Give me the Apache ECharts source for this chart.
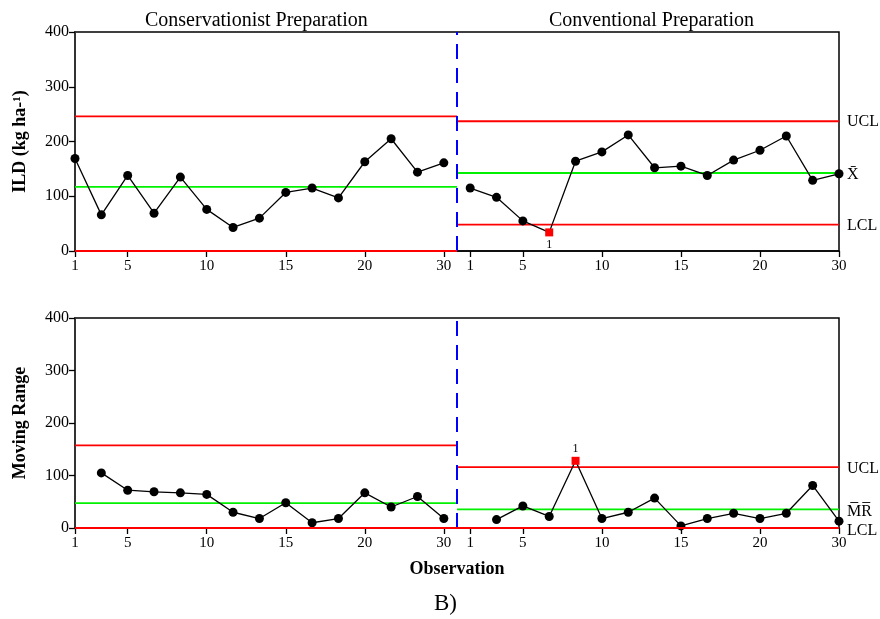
<!DOCTYPE html>
<html>
<head>
<meta charset="utf-8">
<script src="https://cdn.jsdelivr.net/npm/echarts@6/dist/echarts.min.js"></script>
<style>
html,body{margin:0;padding:0;background:#fff;}
#chart{width:880px;height:619px;}
</style>
</head>
<body>
<div id="chart"></div>
<script>
// ---- data ----
const phaseNames = ['Conservationist Preparation', 'Conventional Preparation'];
const tickPositions = [1, 3, 6, 9, 12, 15, 16, 18, 21, 24, 27, 30];
const tickLabels = ['1', '5', '10', '15', '20', '30', '1', '5', '10', '15', '20', '30'];

const ildConservationist = [169, 66, 138, 69, 135, 76, 43, 60, 107, 115, 97, 163, 205, 144, 161];
const ildConventional = [115, 98, 55, 34, 164, 181, 212, 152, 155, 138, 166, 184, 210, 129, 141];
const mrConservationist = [null, 105, 72, 69, 67, 64, 30, 18, 48, 10, 18, 67, 40, 60, 18];
const mrConventional = [null, 16, 42, 22, 128, 18, 30, 57, 4, 18, 28, 18, 28, 81, 13];

const ildUCL = [246, 237];
const ildCL = [117, 142.5];
const ildLCL = [0, 48];
const mrUCL = [157.5, 116];
const mrCL = [47.5, 35.5];
const mrLCL = [0, 0];

const ildFlagIndex = 3;   // conventional phase, flagged by rule 1
const mrFlagIndex = 4;

const yTicks = [0, 100, 200, 300, 400];

// ---- helpers ----
const n1 = ildConservationist.length;
const n2 = ildConventional.length;
const totalN = n1 + n2;
const boundary = n1 + 0.5;
const FONT = 'Liberation Serif';
const RED = '#ff0000', GREEN = '#00f000', BLUE = '#0000ff';

function pts(values, offset, flagIdx) {
  const out = [];
  values.forEach((v, i) => {
    if (v === null) return;
    if (i === flagIdx) {
      out.push({
        value: [offset + i + 1, v],
        symbol: 'rect', symbolSize: 8,
        itemStyle: { color: RED }
      });
    } else {
      out.push([offset + i + 1, v]);
    }
  });
  return out;
}

function dataSeries(values, offset, gi, flagIdx, labelPos) {
  const data = pts(values, offset, flagIdx).map(d => {
    if (!Array.isArray(d)) {
      d.label = { show: true, formatter: '1', position: labelPos, distance: 2,
                  fontFamily: FONT, fontSize: 12, color: '#000' };
    }
    return d;
  });
  return {
    type: 'line', xAxisIndex: gi, yAxisIndex: gi, data: data,
    symbol: 'circle', symbolSize: 9, showAllSymbol: true,
    itemStyle: { color: '#000' },
    lineStyle: { color: '#000', width: 1.3 },
    z: 6, clip: false, silent: true
  };
}

function limitSeries(val, x0, x1, gi, color, label, offsetY) {
  const s = {
    type: 'line', xAxisIndex: gi, yAxisIndex: gi,
    data: [[x0, val], [x1, val]], symbol: 'none',
    lineStyle: { color: color, width: 1.8 }, z: 4, silent: true
  };
  if (label) {
    s.endLabel = { show: true, formatter: label, distance: 8, offset: [0, offsetY || 0],
                   fontFamily: FONT, fontSize: 16, color: '#000' };
  }
  return s;
}

function dividerSeries(gi) {
  return {
    type: 'line', xAxisIndex: gi, yAxisIndex: gi,
    data: [[boundary, yTicks[0]], [boundary, yTicks[yTicks.length - 1]]],
    symbol: 'none', lineStyle: { color: BLUE, width: 2, type: [15, 9] }, z: 5, silent: true
  };
}

function xAxisCfg(gi, name) {
  return {
    type: 'value', gridIndex: gi, min: 1, max: totalN,
    axisLine: { show: true, onZero: false, lineStyle: { color: '#000', width: 1.5 } },
    axisTick: { show: true, customValues: tickPositions, length: 6, lineStyle: { color: '#000', width: 1.3 } },
    axisLabel: {
      customValues: tickPositions, margin: 8,
      formatter: v => tickLabels[tickPositions.indexOf(v)],
      fontFamily: FONT, fontSize: 15, color: '#000'
    },
    splitLine: { show: false },
    name: name || '', nameLocation: 'middle', nameGap: 32,
    nameTextStyle: { fontFamily: FONT, fontSize: 18, fontWeight: 'bold', color: '#000' }
  };
}

function yAxisCfg(gi, name) {
  return {
    type: 'value', gridIndex: gi, min: yTicks[0], max: yTicks[yTicks.length - 1], interval: 100,
    axisLine: { show: true, lineStyle: { color: '#333', width: 2 } },
    axisTick: { show: true, length: 6, lineStyle: { color: '#000', width: 1.3 } },
    axisLabel: { margin: 6, fontFamily: FONT, fontSize: 16, color: '#000' },
    splitLine: { show: false },
    name: name, nameLocation: 'middle', nameGap: 46, nameRotate: 90,
    nameTextStyle: { fontFamily: FONT, fontSize: 18, fontWeight: 'bold', color: '#000' }
  };
}

const chart = echarts.init(document.getElementById('chart'), null, { renderer: 'canvas' });
chart.setOption({
  animation: false,
  backgroundColor: '#fff',
  grid: [
    { left: 75, right: 41, top: 32, height: 219, show: true, borderColor: '#000', borderWidth: 1.5, backgroundColor: 'transparent' },
    { left: 75, right: 41, top: 318, height: 210, show: true, borderColor: '#000', borderWidth: 1.5, backgroundColor: 'transparent' }
  ],
  xAxis: [xAxisCfg(0), xAxisCfg(1, 'Observation')],
  yAxis: [yAxisCfg(0, 'ILD (kg ha-¹)'), yAxisCfg(1, 'Moving Range')],
  graphic: [
    { type: 'text', left: 145, top: 11, style: { text: phaseNames[0], fontFamily: FONT, fontSize: 20, fill: '#000' } },
    { type: 'text', left: 549, top: 11, style: { text: phaseNames[1], fontFamily: FONT, fontSize: 20, fill: '#000' } },
    { type: 'text', left: 434, top: 592, style: { text: 'B)', fontFamily: FONT, fontSize: 23, fill: '#000' } }
  ],
  series: [
    // top chart: individuals
    limitSeries(ildUCL[0], 1, boundary, 0, RED),
    limitSeries(ildCL[0], 1, boundary, 0, GREEN),
    Object.assign(limitSeries(ildLCL[0], 1, boundary, 0, RED), { z: 7 }),
    limitSeries(ildUCL[1], boundary, totalN, 0, RED, 'UCL', 1),
    limitSeries(ildCL[1], boundary, totalN, 0, GREEN, 'X\u0304', 2),
    limitSeries(ildLCL[1], boundary, totalN, 0, RED, 'LCL', 1),
    dividerSeries(0),
    dataSeries(ildConservationist, 0, 0, -1, 'bottom'),
    dataSeries(ildConventional, n1, 0, ildFlagIndex, 'bottom'),
    // bottom chart: moving range
    limitSeries(mrUCL[0], 1, boundary, 1, RED),
    limitSeries(mrCL[0], 1, boundary, 1, GREEN),
    Object.assign(limitSeries(mrLCL[0], 1, boundary, 1, RED), { z: 7 }),
    limitSeries(mrUCL[1], boundary, totalN, 1, RED, 'UCL', 2),
    limitSeries(mrCL[1], boundary, totalN, 1, GREEN, 'M\u0305R\u0305', 2),
    Object.assign(limitSeries(mrLCL[1], boundary, totalN, 1, RED, 'LCL', 3), { z: 7 }),
    dividerSeries(1),
    dataSeries(mrConservationist, 0, 1, -1, 'top'),
    dataSeries(mrConventional, n1, 1, mrFlagIndex, 'top')
  ]
});
</script>
</body>
</html>
